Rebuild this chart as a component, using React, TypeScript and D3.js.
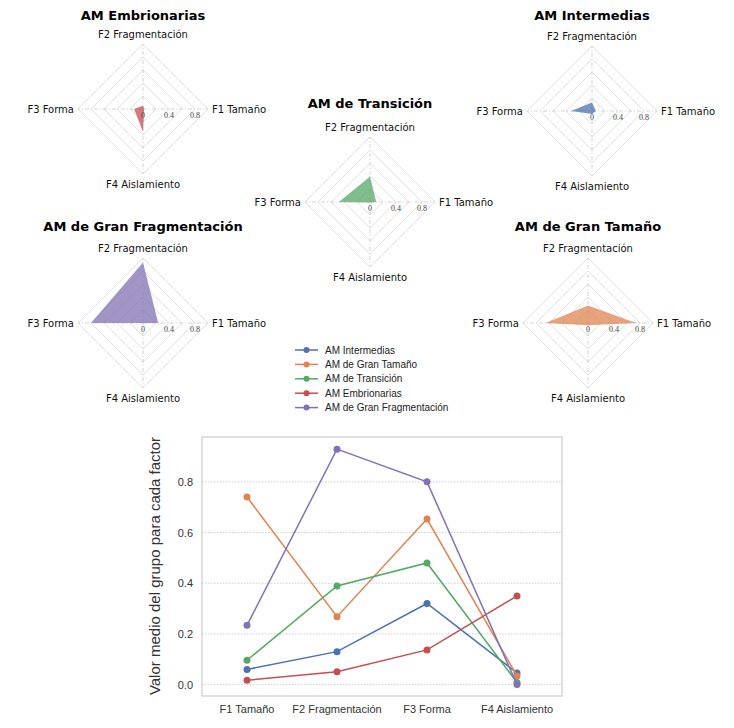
import React from "react";
import * as d3 from "d3";

const factors = ["F1 Tamaño", "F2 Fragmentación", "F3 Forma", "F4 Aislamiento"];
const groups = ["AM Intermedias", "AM de Gran Tamaño", "AM de Transición", "AM Embrionarias", "AM de Gran Fragmentación"];
const colors = ["#4C72B0", "#DD8452", "#55A868", "#C44E52", "#8172B3"];

const intermedias = [0.06, 0.13, 0.32, 0.046];
const granTamano = [0.74, 0.268, 0.653, 0.034];
const transicion = [0.096, 0.389, 0.48, 0.008];
const embrionarias = [0.017, 0.051, 0.137, 0.35];
const granFragmentacion = [0.234, 0.929, 0.8, 0.0];

const seriesValues = [intermedias, granTamano, transicion, embrionarias, granFragmentacion];

const radarTicks = [0.2, 0.4, 0.6, 0.8, 1.0];
const radarTickLabels = [0, 0.4, 0.8];
const yTicks = [0, 0.2, 0.4, 0.6, 0.8];

// layout of radar panels (index into groups)
const radarLayout = [
  { g: 3, cx: 143, cy: 109, ty: 20 },
  { g: 0, cx: 592, cy: 111, ty: 20 },
  { g: 2, cx: 370, cy: 202, ty: 108 },
  { g: 4, cx: 143, cy: 323, ty: 231 },
  { g: 1, cx: 588, cy: 323, ty: 231 },
];

const radarFont = "'DejaVu Sans', Verdana, sans-serif";
const lineFont = "'Liberation Sans', Arial, sans-serif";

function Radar({ g, cx, cy, ty }: { g: number; cx: number; cy: number; ty: number }) {
  const R = 65;
  const r = d3.scaleLinear().domain([0, 1]).range([0, R]);
  const angle = (i: number) => (i * Math.PI) / 2; // F1 right, ccw
  const pt = (i: number, v: number): [number, number] => [
    cx + r(v) * Math.cos(angle(i)),
    cy - r(v) * Math.sin(angle(i)),
  ];
  const line = d3.line<[number, number]>().curve(d3.curveLinearClosed);
  const vals = seriesValues[g];
  const poly = line(vals.map((v, i) => pt(i, v)));
  return (
    <g>
      {radarTicks.map((t) => (
        <path
          key={t}
          d={line(factors.map((_, i) => pt(i, t))) || ""}
          fill="none"
          stroke="#e2e2e2"
          strokeWidth={1}
        />
      ))}
      {factors.map((_, i) => {
        const [x2, y2] = pt(i, 1);
        return (
          <line key={i} x1={cx} y1={cy} x2={x2} y2={y2} stroke="#d4d4d4" strokeWidth={1} strokeDasharray="4,2,1,2" />
        );
      })}
      <path d={poly || ""} fill={colors[g]} fillOpacity={0.75} stroke="none" />
      {radarTickLabels.map((t) => (
        <text key={t} x={cx + r(t)} y={cy + 9} fontSize={8} fill="#444" textAnchor="middle" fontFamily="'Liberation Serif', serif">
          {t}
        </text>
      ))}
      <text x={cx + R + 4} y={cy + 3.5} fontSize={10} fontFamily={radarFont} fill="#111">{factors[0]}</text>
      <text x={cx} y={cy - R - 6} fontSize={10} fontFamily={radarFont} fill="#111" textAnchor="middle">{factors[1]}</text>
      <text x={cx - R - 4} y={cy + 3.5} fontSize={10} fontFamily={radarFont} fill="#111" textAnchor="end">{factors[2]}</text>
      <text x={cx} y={cy + R + 14} fontSize={10} fontFamily={radarFont} fill="#111" textAnchor="middle">{factors[3]}</text>
      <text x={cx} y={ty} fontSize={13} fontWeight="bold" fontFamily={radarFont} fill="#000" textAnchor="middle">{groups[g]}</text>
    </g>
  );
}

export default function App() {
  const W = 734, H = 728;
  const left = 202, right = 562, top = 437, bottom = 696;
  const x = d3.scaleLinear().domain([-0.5, 3.5]).range([left, right]);
  const y = d3.scaleLinear().domain([-0.045, 0.977]).range([bottom, top]);
  const ln = d3.line<number>().x((_, i) => x(i)).y((v) => y(v));

  return (
    <svg width={W} height={H} style={{ position: "absolute", left: 0, top: 0, background: "#fff" }}>
      <rect x={0} y={0} width={W} height={H} fill="#fff" />
      {radarLayout.map((p) => (
        <Radar key={p.g} {...p} />
      ))}

      {/* legend */}
      {groups.map((name, i) => {
        const yy = 350 + i * 14.4;
        return (
          <g key={name}>
            <line x1={295} x2={318} y1={yy} y2={yy} stroke={colors[i]} strokeWidth={1.5} />
            <circle cx={306.5} cy={yy} r={3} fill={colors[i]} />
            <text x={325} y={yy + 3.5} fontSize={10} fontFamily={lineFont} fill="#222">{name}</text>
          </g>
        );
      })}

      {/* line chart */}
      {yTicks.map((t) => (
        <g key={t}>
          <line x1={left} x2={right} y1={y(t)} y2={y(t)} stroke="#cfcfcf" strokeWidth={1} strokeDasharray="1.5,1.5" />
          <text x={193} y={y(t) + 4} fontSize={11} textAnchor="end" fontFamily={lineFont} fill="#333">
            {t.toFixed(1)}
          </text>
        </g>
      ))}
      <rect x={left} y={top} width={right - left} height={bottom - top} fill="none" stroke="#cccccc" strokeWidth={1.2} />
      {factors.map((f, i) => (
        <text key={f} x={x(i)} y={713} fontSize={11} textAnchor="middle" fontFamily={lineFont} fill="#333">
          {f}
        </text>
      ))}
      <text
        transform={`translate(160,566) rotate(-90)`}
        fontSize={15}
        textAnchor="middle"
        fontFamily={lineFont}
        fill="#333"
      >
        Valor medio del grupo para cada factor
      </text>
      {seriesValues.map((vals, gi) => (
        <g key={gi}>
          <path d={ln(vals) || ""} fill="none" stroke={colors[gi]} strokeWidth={1.5} />
          {vals.map((v, i) => (
            <circle key={i} cx={x(i)} cy={y(v)} r={3.5} fill={colors[gi]} />
          ))}
        </g>
      ))}
    </svg>
  );
}
